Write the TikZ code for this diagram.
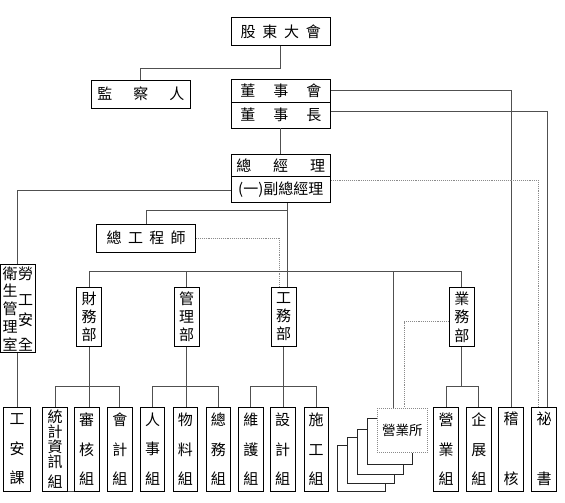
\documentclass[tikz,border=0pt]{standalone}
\usepackage{fontspec}
\setmainfont{Noto Sans CJK TC}
\usepackage{tikz}
\definecolor{line_gray}{HTML}{505050}
\definecolor{dot_gray}{HTML}{8A8A8A}

\begin{document}
\begin{tikzpicture}[x=1pt,y=-1pt,
    box/.style={draw,line width=0.9pt,fill=white,inner sep=0pt,font=\fontsize{15}{15}\selectfont},
    topbox/.style={box,minimum width=99.5pt},
    deptbox/.style={box,minimum width=25pt,minimum height=59pt,align=center,font=\fontsize{15}{18.3}\selectfont},
    grpbox/.style={box,minimum width=24.5pt,minimum height=83.7pt,align=center,font=\fontsize{15}{29.3}\selectfont},
    solidlink/.style={line_gray,line width=1pt},
    dotlink/.style={dot_gray,densely dotted,line width=0.9pt}]
    \useasboundingbox (0,0) rectangle (565,503);
    % top of the chart
    \node[topbox,minimum height=28.4pt] (gd) at (280.75,31.5) {股\hspace{6.8pt}東\hspace{6.8pt}大\hspace{6.8pt}會};
    \node[box,minimum width=98.8pt,minimum height=28.3pt] (jc) at (140.9,94.2) {監\hspace{21pt}察\hspace{21pt}人};
    \node[topbox,minimum height=23pt] (dsh) at (280.75,90.5) {董\hspace{18pt}事\hspace{18pt}會};
    \node[topbox,minimum height=26pt] (dsz) at (280.75,115) {董\hspace{18pt}事\hspace{18pt}長};
    \node[topbox,minimum height=22.7pt] (zjl) at (280.75,165.35) {總\hspace{22pt}經\hspace{22pt}理};
    \node[topbox,minimum height=26pt] (fzjl) at (280.75,189.7) {(一)副總經理};
    \node[box,minimum width=99.1pt,minimum height=28.3pt] (zgcs) at (146.15,238.15) {總\hspace{6.3pt}工\hspace{6.3pt}程\hspace{6.3pt}師};
    % safety office
    \node[box,minimum width=34.5pt,minimum height=88.3pt] (lg) at (17.75,308.15) {};
    \node[align=center,inner sep=0pt,font=\fontsize{15}{17.75}\selectfont] (lgl) at (10,308.8) {衛\\生\\管\\理\\室};
    \node[align=center,inner sep=0pt,font=\fontsize{15}{15}\selectfont] (lgr) at (25.5,308.8) {勞\\[11.7pt]工\\[5pt]安\\[9.3pt]全};
    % departments
    \node[deptbox] (cwb) at (89.2,316.8) {財\\務\\部};
    \node[deptbox] (glb) at (186.5,316.8) {管\\理\\部};
    \node[deptbox] (gwb) at (283.6,316.8) {工\\務\\部};
    \node[deptbox] (ywb) at (461.8,317.2) {業\\務\\部};
    % groups
    \node[grpbox,minimum width=27pt] (gak) at (17,449.15) {工\\安\\課};
    \node[grpbox,font=\fontsize{15}{13.3}\selectfont] (tj) at (55,449.15) {統\\計\\資\\訊\\[5pt]組};
    \node[grpbox] (sh) at (86.7,449.15) {審\\核\\組};
    \node[grpbox] (kj) at (119.8,449.15) {會\\計\\組};
    \node[grpbox] (rs) at (152.5,449.15) {人\\事\\組};
    \node[grpbox] (wl) at (185.3,449.15) {物\\料\\組};
    \node[grpbox] (zw) at (218.3,449.15) {總\\務\\組};
    \node[grpbox] (wh) at (250.9,449.15) {維\\護\\組};
    \node[grpbox] (sj) at (282.7,449.15) {設\\計\\組};
    \node[grpbox] (sg) at (316.2,449.15) {施\\工\\組};
    \node[grpbox] (yy) at (446,449.15) {營\\業\\組};
    \node[grpbox] (qz) at (478.8,449.15) {企\\展\\組};
    \node[grpbox] (jh) at (511,449.15) {稽\\[30.7pt]核};
    \node[grpbox] (ms) at (544,449.15) {祕\\[30.7pt]書};
    % branch offices, stacked
    \foreach \l/\t/\r/\b in {337.7/445/385.7/491.7, 347.7/437.7/394.3/483.3, 357.3/429/403.3/474, 367.3/418.3/412.7/464}
      \draw[black!85,line width=0.8pt,fill=white] (\l,\t) rectangle (\r,\b);
    \node[draw=dot_gray,densely dotted,line width=1pt,fill=white,minimum width=50pt,minimum height=44.4pt,inner sep=0pt,font=\fontsize{13.5}{13.5}\selectfont] (yys) at (402.3,430.5) {營業所};
    \coordinate (trunk) at (287,210.7);
    \coordinate (bus) at (0,271);
    \coordinate (yysin) at ([xshift=-9pt]yys.north);
    % connectors
    \draw[solidlink] (gd.south) -- ++(0,22.6) -| (jc.north);
    \draw[solidlink] (dsh.east) -| (jh.north);
    \draw[solidlink] ([yshift=4pt]dsz.east) -| ([xshift=3.5pt]ms.north);
    \draw[solidlink] (dsz.south) -- (zjl.north);
    \draw[dotlink] ([yshift=9.4pt]fzjl.east) -| ([xshift=-5.7pt]ms.north);
    \draw[solidlink] ([yshift=-1pt]fzjl.west) -| (lg.north);
    \draw[solidlink] (fzjl.south -| trunk) -- (trunk |- gwb.north);
    \draw[solidlink] (trunk) -| (zgcs.north);
    \draw[dotlink] (zgcs.east) -| ([xshift=-4pt]gwb.north);
    \draw[solidlink] (cwb.north) -- (cwb.north |- bus) -- (ywb.north |- bus) -- (ywb.north);
    \draw[solidlink] (glb.north |- bus) -- (glb.north);
    \draw[solidlink] (yysin |- bus) -- (yysin);
    \draw[dotlink] ([yshift=-4.5pt]ywb.west) -| ([xshift=2pt]yys.north);
    \draw[solidlink] (lg.south) -- (lg.south |- gak.north);
    \draw[solidlink] (cwb.south) -- (cwb.south |- sh.north);
    \draw[solidlink] (tj.north) -- ++(0,-20.6) -| (kj.north);
    \draw[solidlink] (glb.south) -- (glb.south |- wl.north);
    \draw[solidlink] (rs.north) -- ++(0,-20.6) -| (zw.north);
    \draw[solidlink] (gwb.south) -- (gwb.south |- sj.north);
    \draw[solidlink] (wh.north) -- ++(0,-20.6) -| (sg.north);
    \draw[solidlink] (ywb.south) -- ++(0,40);
    \draw[solidlink] (yy.north) -- ++(0,-20.6) -| (qz.north);
    \draw[solidlink] (tj.south east) -- (sh.south west);
\end{tikzpicture}
\end{document}
